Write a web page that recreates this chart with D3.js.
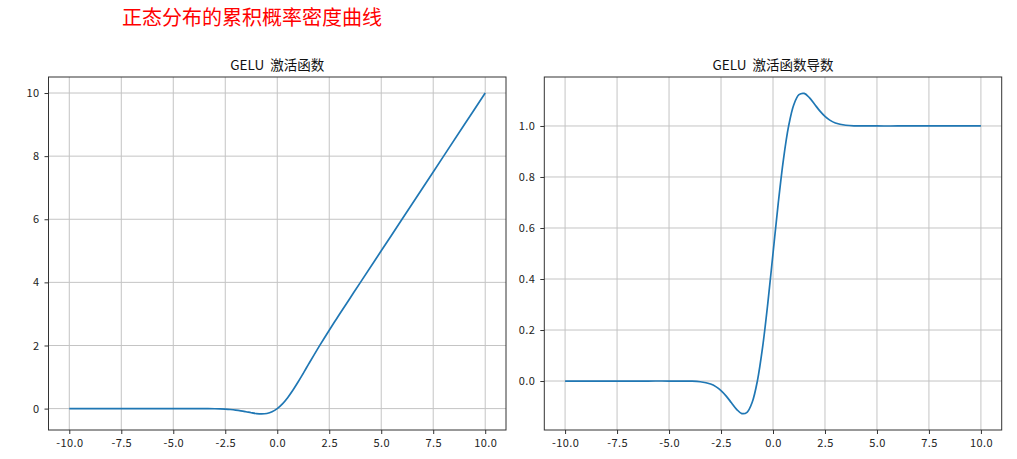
<!DOCTYPE html>
<html>
<head>
<meta charset="utf-8">
<script src="https://cdn.jsdelivr.net/npm/d3@7"></script>
<style>
  html, body { margin: 0; padding: 0; background: #fff; }
  svg { display: block; font-family: "Noto Sans CJK SC", "DejaVu Sans", sans-serif; }
</style>
</head>
<body>
<svg id="chart" width="1017" height="459"></svg>
<script>
// Sample positions along the x axis
const xs = [-10, -9, -8, -7, -6, -5, -4, -3.5, -3, -2.75, -2.5, -2.25, -2, -1.75, -1.5, -1.25, -1, -0.75,
            -0.5, -0.25, 0, 0.25, 0.5, 0.75, 1, 1.25, 1.5, 1.75, 2, 2.25, 2.5, 2.75, 3, 3.5, 4,
            5, 6, 7, 8, 9, 10];

// GELU activation values at each x
const geluValues = [0, 0, 0, 0, 0, 0, -0.0001, -0.0008, -0.004, -0.0082, -0.0155, -0.0275, -0.0455, -0.0701,
                    -0.1002, -0.1321, -0.1587, -0.1700, -0.1543, -0.1003, 0, 0.1497, 0.3457, 0.5800, 0.8413,
                    1.1179, 1.3998, 1.6799, 1.9545, 2.2225, 2.4845, 2.7418, 2.9960, 3.4992, 4.0,
                    5, 6, 7, 8, 9, 10];

// GELU derivative values at each x
const geluGrad = [0, 0, 0, 0, 0, 0, -0.0005, -0.0028, -0.0119, -0.0220, -0.0376, -0.0592, -0.0852, -0.1109,
                  -0.1275, -0.1227, -0.0833, 0.0008, 0.1325, 0.3046, 0.5, 0.6954, 0.8675, 0.9992, 1.0833,
                  1.1227, 1.1275, 1.1109, 1.0852, 1.0592, 1.0376, 1.0220, 1.0119, 1.0028, 1.0005,
                  1, 1, 1, 1, 1, 1];

const xTicks = [-10, -7.5, -5, -2.5, 0, 2.5, 5, 7.5, 10];
const leftYTicks = [0, 2, 4, 6, 8, 10];
const rightYTicks = [0, 0.2, 0.4, 0.6, 0.8, 1.0];

const suptitle = "正态分布的累积概率密度曲线";
const leftTitle = "GELU 激活函数";
const rightTitle = "GELU 激活函数导数";

const svg = d3.select("#chart");

svg.append("text")
  .attr("x", 252).attr("y", 25)
  .attr("text-anchor", "middle")
  .attr("fill", "#ff0000")
  .attr("font-size", 20)
  .text(suptitle);

function drawPanel(opts) {
  const { left, right, top, bottom, xDomain, yDomain, yTicks, yFmt, values, title } = opts;
  const x = d3.scaleLinear().domain(xDomain).range([left, right]);
  const y = d3.scaleLinear().domain(yDomain).range([bottom, top]);
  const g = svg.append("g");

  // grid
  g.append("g").selectAll("line").data(xTicks).join("line")
    .attr("x1", d => x(d)).attr("x2", d => x(d))
    .attr("y1", top).attr("y2", bottom)
    .attr("stroke", "#c4c4c4").attr("stroke-width", 1);
  g.append("g").selectAll("line").data(yTicks).join("line")
    .attr("y1", d => y(d)).attr("y2", d => y(d))
    .attr("x1", left).attr("x2", right)
    .attr("stroke", "#c4c4c4").attr("stroke-width", 1);

  // curve
  const line = d3.line()
    .x((d, i) => x(xs[i]))
    .y(d => y(d))
    .curve(d3.curveCatmullRom.alpha(0.5));
  g.append("path")
    .datum(values)
    .attr("d", line)
    .attr("fill", "none")
    .attr("stroke", "#1f77b4")
    .attr("stroke-width", 1.7);

  // axes
  const xAxis = d3.axisBottom(x).tickValues(xTicks).tickSize(4).tickPadding(5)
    .tickFormat(d => d.toFixed(1));
  const gx = g.append("g").attr("transform", `translate(0,${bottom})`).call(xAxis);
  const yAxis = d3.axisLeft(y).tickValues(yTicks).tickSize(4).tickPadding(5).tickFormat(yFmt);
  const gy = g.append("g").attr("transform", `translate(${left},0)`).call(yAxis);
  [gx, gy].forEach(a => {
    a.select(".domain").remove();
    a.selectAll(".tick line").attr("stroke", "#333");
    a.selectAll(".tick text").attr("fill", "#222").attr("font-size", 11)
      .attr("letter-spacing", 0.4)
      .attr("font-family", "'Noto Sans CJK SC', sans-serif");
  });

  // frame
  g.append("rect")
    .attr("x", left).attr("y", top)
    .attr("width", right - left).attr("height", bottom - top)
    .attr("fill", "none").attr("stroke", "#333").attr("stroke-width", 1);

  g.append("text")
    .attr("x", (left + right) / 2).attr("y", 70)
    .attr("text-anchor", "middle")
    .attr("font-size", 13.5)
    .attr("fill", "#111")
    .attr("xml:space", "preserve")
    .style("white-space", "pre")
    .text(title.replace(" ", "  "));
}

drawPanel({
  left: 48.5, right: 506, top: 77, bottom: 430,
  xDomain: [-11, 11], yDomain: [-0.678, 10.508],
  yTicks: leftYTicks, yFmt: d => String(d),
  values: geluValues, title: leftTitle
});

drawPanel({
  left: 544.3, right: 1001.7, top: 77, bottom: 430,
  xDomain: [-11, 11], yDomain: [-0.192, 1.192],
  yTicks: rightYTicks, yFmt: d => d.toFixed(1),
  values: geluGrad, title: rightTitle
});
</script>
</body>
</html>
